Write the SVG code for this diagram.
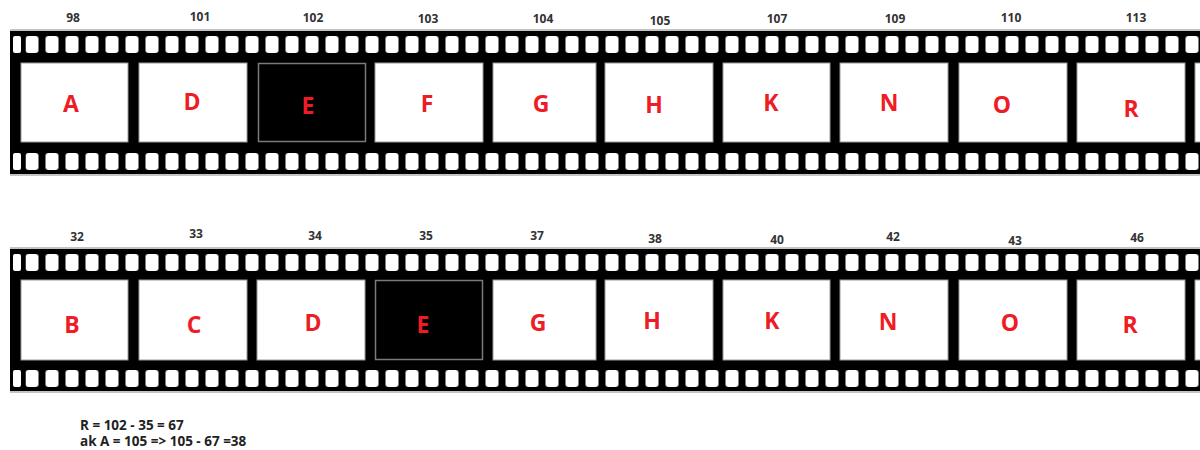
<svg xmlns="http://www.w3.org/2000/svg" width="1200" height="450" viewBox="0 0 1200 450">
<style>
.edge{stroke:#b0b0b0;stroke-width:1.5}
.band{fill:#000}
.frame{fill:#fff;stroke:#9a9a9a;stroke-width:1}
.dark{fill:#000;stroke:#7a7a7a;stroke-width:1.5}
.let{font-family:"Open Sans","Liberation Sans",sans-serif;font-weight:bold;font-size:23px;fill:#ee1c24;text-anchor:middle}
.num{font-family:"Open Sans","Liberation Sans",sans-serif;font-weight:bold;font-size:12px;fill:#333;text-anchor:middle}
.note{font-family:"Open Sans","Liberation Sans",sans-serif;font-weight:bold;font-size:13.5px;fill:#222}
</style>
<defs>
<pattern id="holes" patternUnits="userSpaceOnUse" x="25.5" y="0" width="20" height="17">
<rect x="0" y="0" width="13" height="17" rx="3" fill="#fff"/>
</pattern>
<g id="row">
<rect x="25.5" y="0" width="1175" height="17" fill="url(#holes)"/>
<rect x="13" y="0" width="8" height="17" rx="2" fill="#fff"/>
</g>
</defs>

<g id="strip-top">
<rect class="band" x="10" y="31" width="1190" height="143"/>
<line class="edge" x1="10" y1="30" x2="1200" y2="30"/>
<line class="edge" x1="10" y1="175" x2="1200" y2="175"/>
<use href="#row" transform="translate(0,36)"/>
<use href="#row" transform="translate(0,153)"/>
</g>

<g id="strip-bottom">
<rect class="band" x="10" y="249" width="1190" height="142"/>
<line class="edge" x1="10" y1="248" x2="1200" y2="248"/>
<line class="edge" x1="10" y1="392" x2="1200" y2="392"/>
<use href="#row" transform="translate(0,254)"/>
<use href="#row" transform="translate(0,370)"/>
</g>

<g id="top-frames">
<g id="t-A"><rect class="frame" x="21" y="63" width="107" height="79"/><text class="let" x="71" y="112">A</text><text class="num" x="73" y="22">98</text></g>
<g id="t-D"><rect class="frame" x="139" y="63" width="108" height="79"/><text class="let" x="192" y="110">D</text><text class="num" x="200" y="21">101</text></g>
<g id="t-E"><rect class="dark" x="258.5" y="63.5" width="107" height="78"/><text class="let" x="308" y="114">E</text><text class="num" x="313" y="22">102</text></g>
<g id="t-F"><rect class="frame" x="375" y="63" width="108" height="79"/><text class="let" x="427" y="112">F</text><text class="num" x="428" y="23">103</text></g>
<g id="t-G"><rect class="frame" x="493" y="63" width="103" height="79"/><text class="let" x="541" y="112">G</text><text class="num" x="543" y="23">104</text></g>
<g id="t-H"><rect class="frame" x="605" y="63" width="108" height="79"/><text class="let" x="654" y="113">H</text><text class="num" x="660" y="25">105</text></g>
<g id="t-K"><rect class="frame" x="723" y="63" width="107" height="79"/><text class="let" x="771" y="111">K</text><text class="num" x="777" y="23">107</text></g>
<g id="t-N"><rect class="frame" x="840" y="63" width="108" height="79"/><text class="let" x="889" y="111">N</text><text class="num" x="895" y="23">109</text></g>
<g id="t-O"><rect class="frame" x="959" y="63" width="108" height="79"/><text class="let" x="1002" y="113">O</text><text class="num" x="1011" y="22">110</text></g>
<g id="t-R"><rect class="frame" x="1077" y="63" width="108" height="79"/><text class="let" x="1131" y="117">R</text><text class="num" x="1136" y="22">113</text></g>
<g id="t-next"><rect class="frame" x="1195" y="63" width="20" height="79"/></g>
</g>

<g id="bottom-frames">
<g id="b-B"><rect class="frame" x="21" y="280" width="107" height="80"/><text class="let" x="72" y="333">B</text><text class="num" x="77" y="241">32</text></g>
<g id="b-C"><rect class="frame" x="139" y="280" width="108" height="80"/><text class="let" x="194" y="333">C</text><text class="num" x="196" y="238">33</text></g>
<g id="b-D"><rect class="frame" x="257" y="280" width="108" height="80"/><text class="let" x="313" y="331">D</text><text class="num" x="315" y="240">34</text></g>
<g id="b-E"><rect class="dark" x="375.5" y="280.5" width="107" height="79"/><text class="let" x="423" y="333">E</text><text class="num" x="426" y="240">35</text></g>
<g id="b-G"><rect class="frame" x="493" y="280" width="103" height="80"/><text class="let" x="538" y="331">G</text><text class="num" x="537" y="240">37</text></g>
<g id="b-H"><rect class="frame" x="605" y="280" width="108" height="80"/><text class="let" x="652" y="329">H</text><text class="num" x="655" y="243">38</text></g>
<g id="b-K"><rect class="frame" x="723" y="280" width="107" height="80"/><text class="let" x="772" y="329">K</text><text class="num" x="777" y="244">40</text></g>
<g id="b-N"><rect class="frame" x="840" y="280" width="108" height="80"/><text class="let" x="888" y="330">N</text><text class="num" x="893" y="241">42</text></g>
<g id="b-O"><rect class="frame" x="959" y="280" width="108" height="80"/><text class="let" x="1010" y="331">O</text><text class="num" x="1015" y="245">43</text></g>
<g id="b-R"><rect class="frame" x="1077" y="280" width="108" height="80"/><text class="let" x="1130" y="333">R</text><text class="num" x="1137" y="242">46</text></g>
<g id="b-next"><rect class="frame" x="1195" y="280" width="20" height="80"/></g>
</g>

<g id="notes">
<text class="note" x="80" y="430">R = 102 - 35 = 67</text>
<text class="note" x="80" y="446">ak A = 105 =&gt; 105 - 67 =38</text>
</g>
</svg>
